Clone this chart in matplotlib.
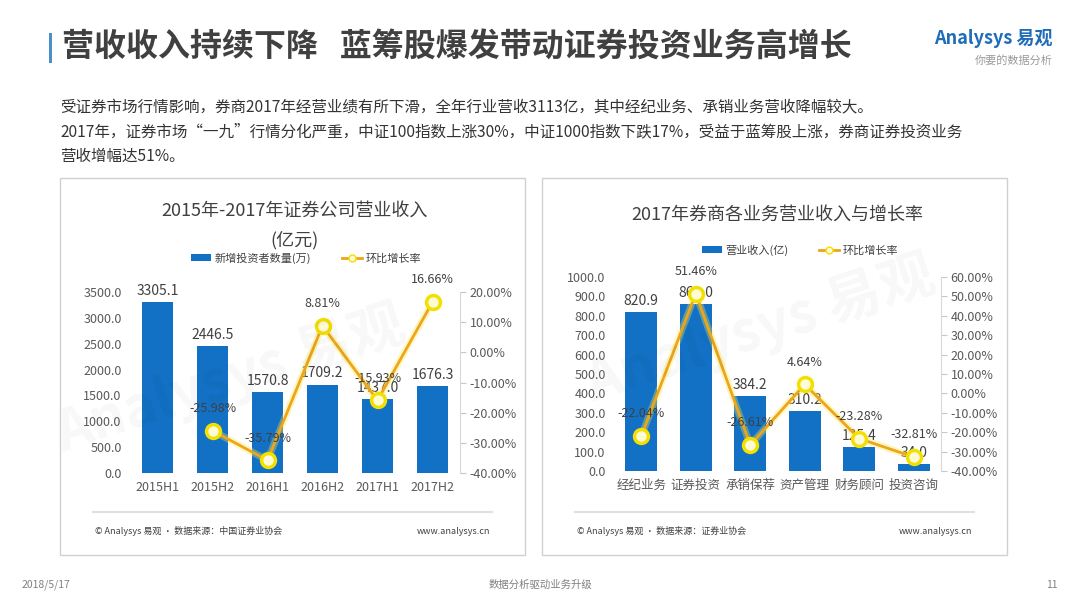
import matplotlib
matplotlib.use('Agg')
import matplotlib.pyplot as plt
from matplotlib.patches import Rectangle, Patch
from matplotlib.lines import Line2D
from matplotlib.ticker import FuncFormatter

plt.rcParams['font.family'] = ['Noto Sans CJK SC', 'DejaVu Sans']

# left chart data
periods = ['2015H1', '2015H2', '2016H1', '2016H2', '2017H1', '2017H2']
revenue = [3305.1, 2446.5, 1570.8, 1709.2, 1437.0, 1676.3]
growth = [None, -25.98, -35.79, 8.81, -15.93, 16.66]

# right chart data
business = ['经纪业务', '证券投资', '承销保荐', '资产管理', '财务顾问', '投资咨询']
biz_revenue = [820.9, 861.0, 384.2, 310.2, 125.4, 34.0]
biz_growth = [-22.04, 51.46, -26.61, 4.64, -23.28, -32.81]

BAR = '#1271C4'
LINE = '#EDA51C'
TXT = '#404040'
TICK = '#595959'

W, H = 1080, 608
fig = plt.figure(figsize=(10.8, 6.08), dpi=100)
fig.patch.set_facecolor('white')


def fx(x):
    return x / W


def fy(y):
    return 1 - y / H


def ax_rect(x0, y0, x1, y1):
    return [fx(x0), fy(y1), fx(x1 - x0), (y1 - y0) / H]


# header
fig.add_artist(Rectangle((fx(49), fy(63)), 3 / W, 30 / H, transform=fig.transFigure,
                         color='#4A90C8', lw=0))
fig.text(fx(62), fy(48), '营收收入持续下降   蓝筹股爆发带动证券投资业务高增长',
         fontsize=23, fontweight='bold', color='#404040', va='center', ha='left')
fig.text(fx(1053), fy(38), 'Analysys 易观', fontsize=13, color='#1F6DB8',
         fontweight='bold', style='italic', ha='right', va='center')
fig.text(fx(1053), fy(60), '你要的数据分析', fontsize=8, color='#9A9A9A',
         style='italic', ha='right', va='center')

para = ['受证券市场行情影响，券商2017年经营业绩有所下滑，全年行业营收3113亿，其中经纪业务、承销业务营收降幅较大。',
        '2017年，证券市场“一九”行情分化严重，中证100指数上涨30%，中证1000指数下跌17%，受益于蓝筹股上涨，券商证券投资业务',
        '营收增幅达51%。']
for i, line in enumerate(para):
    fig.text(fx(60), fy(108 + 24 * i), line, fontsize=11.2, color='#333333', va='center')

# panels
for x0, x1, src in [(60, 525, '中国证券业协会'), (542, 1007, '证券业协会')]:
    fig.add_artist(Rectangle((fx(x0), fy(555)), (x1 - x0) / W, 377 / H,
                             transform=fig.transFigure, fill=False,
                             edgecolor='#D0D0D0', lw=1))
    fig.add_artist(Line2D([fx(x0 + 33), fx(x1 - 33)], [fy(512), fy(512)],
                          transform=fig.transFigure, color='#E0E0E0', lw=1.5))
    fig.text(fx(x0 + 35), fy(531), '© Analysys 易观 · 数据来源：' + src,
             fontsize=6.5, color='#404040', va='center')
    fig.text(fx(x1 - 35), fy(531), 'www.analysys.cn', fontsize=6.5,
             color='#404040', va='center', ha='right')

# faint watermarks
for x, y in [(230, 380), (760, 330)]:
    fig.text(fx(x), fy(y), 'Analysys 易观', fontsize=40, color='#000000', alpha=0.03,
             rotation=18, ha='center', va='center', fontweight='bold')

# page footer
fig.text(fx(22), fy(585), '2018/5/17', fontsize=7.5, color='#808080', va='center')
fig.text(0.5, fy(585), '数据分析驱动业务升级', fontsize=7.5, color='#808080',
         va='center', ha='center')
fig.text(fx(1058), fy(585), '11', fontsize=7.5, color='#808080', va='center', ha='right')

pct = FuncFormatter(lambda v, p: f'{v:.2f}%')


def draw_chart(rect, cats, bars, rates, ymax, ystep, rmin, rmax, title, title_y,
               bar_label, legend_xy):
    ax = fig.add_axes(rect)
    xs = list(range(len(cats)))
    ax.bar(xs, bars, width=0.58, color=BAR, zorder=2)
    ax.set_xlim(-0.5, len(cats) - 0.5)
    ax.set_ylim(0, ymax)
    ax.set_yticks([ystep * i for i in range(int(ymax / ystep) + 1)])
    ax.yaxis.set_major_formatter(FuncFormatter(lambda v, p: f'{v:.1f}'))
    ax.set_xticks(xs)
    ax.set_xticklabels(cats)
    ax.tick_params(axis='both', length=0, labelsize=9, colors=TICK, pad=6)
    for s in ax.spines.values():
        s.set_visible(False)
    ax.patch.set_alpha(0)
    for x, v in zip(xs, bars):
        ax.annotate(f'{v:.1f}', (x, v), xytext=(0, 3), textcoords='offset points',
                    ha='center', va='bottom', fontsize=10, color=TXT, zorder=5)

    ax2 = ax.twinx()
    ax2.set_ylim(rmin, rmax)
    ax2.set_yticks(list(range(rmin, rmax + 1, 10)))
    ax2.yaxis.set_major_formatter(pct)
    ax2.tick_params(axis='y', length=4, width=0.8, color='#C8C8C8',
                    labelsize=9, labelcolor=TICK, pad=3)
    for k in ['top', 'bottom', 'left']:
        ax2.spines[k].set_visible(False)
    ax2.spines['right'].set_color('#D8D8D8')
    px = [x for x, r in zip(xs, rates) if r is not None]
    py = [r for r in rates if r is not None]
    ax2.plot(px, py, color='#FFE94A', lw=5, alpha=0.35, zorder=3, solid_capstyle='round')
    ax2.plot(px, py, color=LINE, lw=2, zorder=4)
    ax2.plot(px, py, 'o', ms=10, mfc='#FFFBD6', mec='#F3E000', mew=2.5, zorder=5)
    for x, r in zip(px, py):
        ax2.annotate(f'{r:.2f}%', (x, r), xytext=(0, 16), textcoords='offset points',
                     ha='center', va='center', fontsize=9, color=TXT, zorder=6)

    cx = rect[0] + rect[2] / 2
    for i, t in enumerate(title):
        fig.text(cx, fy(title_y + 29 * i), t, fontsize=13,
                 color=TXT, ha='center', va='center')

    handles = [Patch(facecolor=BAR, edgecolor='none'),
               Line2D([0], [0], color=LINE, lw=2, marker='o', ms=5,
                      mfc='#FFFBD6', mec='#F3E000')]
    ax.legend(handles, bar_label, ncol=2, loc='center', frameon=False,
              bbox_to_anchor=(fx(legend_xy[0]), fy(legend_xy[1])),
              bbox_transform=fig.transFigure, fontsize=8, handlelength=1.8,
              handleheight=0.6, columnspacing=2.8, handletextpad=0.3,
              labelcolor=TXT)
    return ax, ax2


draw_chart(ax_rect(130, 292, 460, 473), periods, revenue, growth, 3500, 500, -40, 20,
           ['2015年-2017年证券公司营业收入', '(亿元)'], 211,
           ['新增投资者数量(万)', '环比增长率'], (306, 258))
draw_chart(ax_rect(614, 277, 941, 471), business, biz_revenue, biz_growth, 1000, 100, -40, 60,
           ['2017年券商各业务营业收入与增长率'], 215,
           ['营业收入(亿)', '环比增长率'], (800, 250))

fig.savefig('out.png', dpi=100, facecolor='white')
